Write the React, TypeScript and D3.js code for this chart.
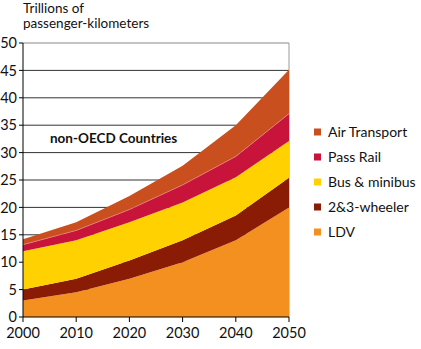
import * as d3 from "d3";

const years = [2000, 2010, 2020, 2030, 2040, 2050];
const seriesNames = ["LDV", "2&3-wheeler", "Bus & minibus", "Pass Rail", "Air Transport"];
const ldv = [3, 4.5, 7, 10, 14, 20];
const twoThree = [2, 2.5, 3.3, 4, 4.5, 5.4];
const bus = [7, 7, 7, 6.9, 7, 6.7];
const rail = [1.2, 1.8, 2.3, 3.2, 3.8, 5];
const air = [1, 1.5, 2.5, 3.5, 5.7, 8];
const colors = ["#f39020", "#8a1c05", "#ffd100", "#c8133a", "#c9501e"];
const yTicks = [0, 5, 10, 15, 20, 25, 30, 35, 40, 45, 50];

const font = "Lato, 'Open Sans', sans-serif";

export default function App() {
  const W = 421, H = 349;
  const x = d3.scaleLinear().domain([2000, 2050]).range([23, 289]);
  const y = d3.scaleLinear().domain([0, 50]).range([317, 43]);

  const rows = years.map((yr, i) => ({
    year: yr,
    "LDV": ldv[i],
    "2&3-wheeler": twoThree[i],
    "Bus & minibus": bus[i],
    "Pass Rail": rail[i],
    "Air Transport": air[i],
  }));
  const stacked = d3.stack<any>().keys(seriesNames)(rows);

  const area = d3
    .area<any>()
    .x((d) => x(d.data.year))
    .y0((d) => y(d[0]))
    .y1((d) => y(d[1]));
  const topLine = d3
    .line<any>()
    .x((d) => x(d.data.year))
    .y((d) => y(d[1]));

  const legendOrder = [4, 3, 2, 1, 0];

  return (
    <svg width={W} height={H} style={{ position: "absolute", left: 0, top: 0 }}>
      <rect width={W} height={H} fill="#fff" />
      <text x={23} y={12.5} fontFamily={font} fontSize={13.5} fill="#111">
        Trillions of
      </text>
      <text x={23} y={28} fontFamily={font} fontSize={13.5} fill="#111">
        passenger-kilometers
      </text>

      {yTicks.slice(1).map((t) => (
        <line key={t} x1={23} x2={289} y1={y(t)} y2={y(t)} stroke={t === 50 ? "#888" : "#333"} strokeWidth={1} />
      ))}
      <line x1={289} x2={289} y1={y(50)} y2={y(0)} stroke="#999" />

      {stacked.map((s, i) => (
        <path key={s.key} d={area(s) || ""} fill={colors[i]} />
      ))}
      <path d={topLine(stacked[3]) || ""} fill="none" stroke="#e8807a" strokeWidth={0.8} />

      <text x={50} y={143} fontFamily={font} fontSize={13.5} fontWeight="bold" fill="#111">
        non-OECD Countries
      </text>

      <line x1={23} x2={23} y1={y(50)} y2={y(0)} stroke="#000" />
      <line x1={23} x2={289} y1={y(0)} y2={y(0)} stroke="#000" />
      {yTicks.map((t) => (
        <g key={t}>
          <line x1={19} x2={23} y1={y(t)} y2={y(t)} stroke="#000" />
          <text x={17} y={y(t)} dy="0.36em" textAnchor="end" fontFamily={font} fontSize={14.5} fill="#111">
            {t}
          </text>
        </g>
      ))}
      {years.map((yr) => (
        <g key={yr}>
          <line x1={x(yr)} x2={x(yr)} y1={317} y2={322} stroke="#000" />
          <text x={x(yr)} y={338} textAnchor="middle" fontFamily={font} fontSize={14.5} fill="#111">
            {yr}
          </text>
        </g>
      ))}

      {legendOrder.map((idx, j) => (
        <g key={seriesNames[idx]} transform={`translate(314,${132 + j * 25})`}>
          <rect x={0} y={-3.5} width={7} height={7} fill={colors[idx]} />
          <text x={14} y={0} dy="0.36em" fontFamily={font} fontSize={14} fill="#111">
            {seriesNames[idx]}
          </text>
        </g>
      ))}
    </svg>
  );
}
